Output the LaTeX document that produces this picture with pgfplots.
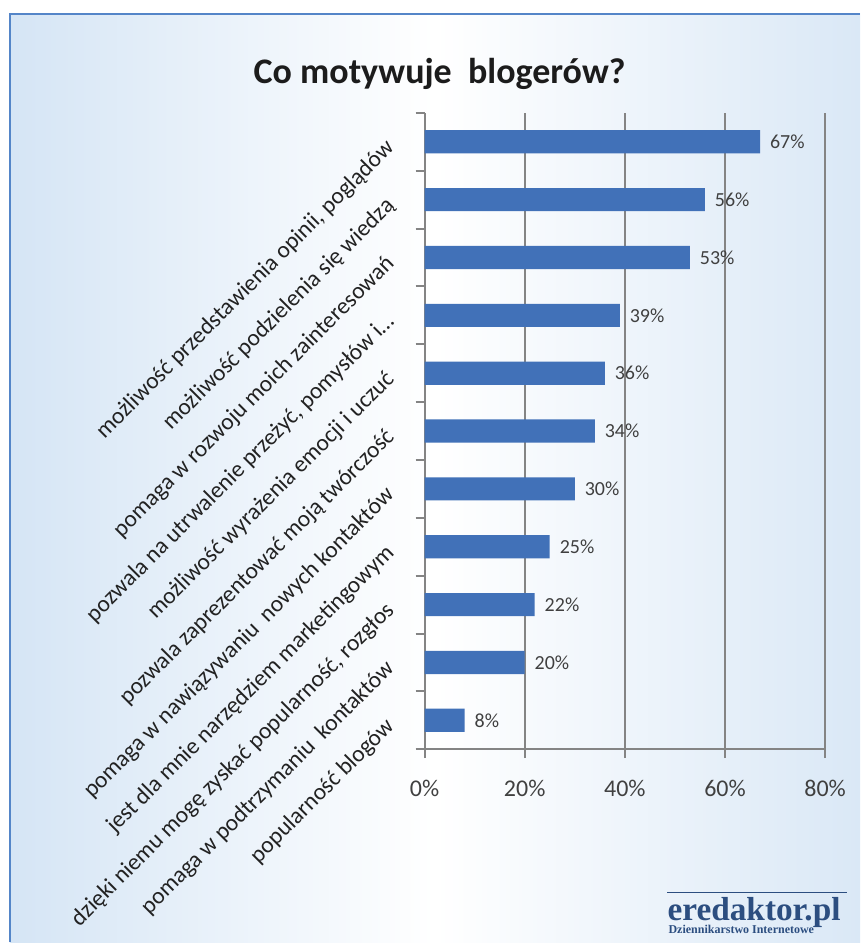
\documentclass[border=0pt]{standalone}
\usepackage{fontspec}
\setmainfont{Carlito}
\newfontfamily\logofont{Liberation Serif}
\usepackage{pgfplots}
\pgfplotsset{compat=1.18}
\definecolor{barblue}{RGB}{65,113,184}
\definecolor{gridgray}{RGB}{132,132,132}
\definecolor{frameblue}{RGB}{84,133,200}
\definecolor{bgleft}{RGB}{213,229,245}
\definecolor{bgright}{RGB}{218,232,246}
\definecolor{titlec}{RGB}{28,28,28}
\definecolor{labc}{RGB}{34,34,34}
\definecolor{numc}{RGB}{64,64,64}
\definecolor{logoc}{RGB}{44,78,128}
\begin{document}
\begin{tikzpicture}
\begin{scope}[x=0.75pt,y=0.75pt]
\fill[white] (0,0) rectangle (861,943);
\shade[left color=bgleft, right color=bgright, middle color=white] (10,0) rectangle (861,929);
\draw[frameblue, line width=1.5pt] (10,0) -- (10,929) -- (861,929);
\node[font=\bfseries\fontsize{27}{32}\selectfont, text=titlec, anchor=base] at (440,859) {Co motywuje\ \ blogerów?};
% logo
\draw[logoc, line width=0.8pt] (668,50) -- (848,50);
\node[font=\logofont\bfseries\fontsize{25}{28}\selectfont, text=logoc, anchor=base west, inner sep=0pt] at (668,22) {eredaktor.pl};
\node[font=\logofont\bfseries\fontsize{9}{11}\selectfont, text=logoc, anchor=base west, inner sep=0pt] at (669,9) {Dziennikarstwo Internetowe};
\end{scope}
\begin{axis}[
    at={(318.75pt,144.75pt)}, anchor=south west,
    scale only axis, width=300.75pt, height=477.75pt,
    xbar, bar width=0.4,
    xmin=0, xmax=80, ymin=-0.5, ymax=10.5,
    axis x line*=bottom, axis y line*=left,
    axis line style={-, draw=gridgray, line width=1.5pt},
    xtick={0,20,40,60,80},
    xticklabels={0\%,20\%,40\%,60\%,80\%},
    ytick={0,...,10},
    yticklabels={
        popularność blogów,
        pomaga w podtrzymaniu\ \ kontaktów,
        {dzięki niemu mogę zyskać popularność, rozgłos},
        jest dla mnie narzędziem marketingowym,
        pomaga w nawiązywaniu\ \ nowych kontaktów,
        pozwala zaprezentować moją twórczość,
        możliwość wyrażenia emocji i uczuć,
        {pozwala na utrwalenie przeżyć, pomysłów i…},
        pomaga w rozwoju moich zainteresowań,
        możliwość podzielenia się wiedzą,
        {możliwość przedstawienia opinii, poglądów}},
    minor ytick={-0.5,0.5,...,10.5},
    tick align=outside,
    major tick length=6.75pt, minor tick length=6.75pt,
    tick style={draw=gridgray, line width=1.5pt},
    major y tick style={draw=none},
    xmajorgrids,
    major x grid style={draw=gridgray, line width=1.5pt},
    xticklabel style={font=\fontsize{18}{21}\selectfont, text=numc, yshift=-13pt},
    yticklabel style={font=\fontsize{17.6}{20}\selectfont, text=labc, xshift=-18.5pt, yshift=-2pt, rotate=45, anchor=east, inner sep=0pt},
    point meta=x,
    nodes near coords={\pgfmathprintnumber[assume math mode=true]{\pgfplotspointmeta}\%},
    nodes near coords align={horizontal},
    every node near coord/.append style={font=\fontsize{15}{18}\selectfont, text=numc, anchor=west, xshift=4pt},
]
\addplot[fill=barblue, draw=none] coordinates {
    (67,10) (56,9) (53,8) (39,7) (36,6) (34,5) (30,4) (25,3) (22,2) (20,1) (8,0)};
\end{axis}
\end{tikzpicture}
\end{document}
